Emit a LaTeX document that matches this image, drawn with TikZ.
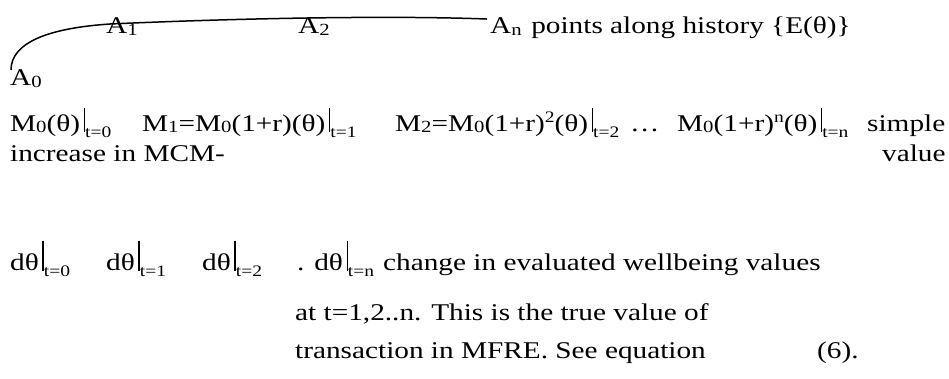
\documentclass[tikz,border=0pt]{standalone}
\usepackage{fontspec}
\setmainfont{Liberation Serif}[FakeStretch=1.22]
\usetikzlibrary{positioning}

% small lowered / raised figures and the evaluation bar
\newcommand{\lo}[2][0.1em]{\raisebox{-#1}{\fontsize{17}{17}\selectfont #2}}
\newcommand{\hi}[1]{\raisebox{0.36em}{\fontsize{16}{16}\selectfont #1}}
\newcommand{\evbar}[2][1.0em]{\hspace{0.15em}\rule[-0.05em]{1.4pt}{#1}\raisebox{-0.25em}{\fontsize{16}{16}\selectfont #2}}

\begin{document}
\begin{tikzpicture}[
    x=1pt, y=-1pt,
    txt/.style={anchor=base west, inner sep=0pt, font=\fontsize{24}{28}\selectfont},
    histline/.style={draw=black, line width=1.5pt}
]
    \useasboundingbox (0,0) rectangle (949,378);

    % Points along history
    \node[txt] (A0) at (10,85) {A\lo{0}};
    \node[txt] (A1) at (106,33) {A\lo{1}};
    \node[txt] (A2) at (298,33) {A\lo{2}};
    \node[txt] (An) at (490,33) {A\lo{n}\hspace{0.4em}points along history \{E(θ)\}};

    % History curve from A0 up to An
    \coordinate (h0) at (11,70);
    \coordinate (h1) at (110,24);
    \draw[histline] (h0) .. controls (11,42) and (50,28) .. (h1)
        .. controls (220,19) and (380,15) .. ([xshift=-3pt,yshift=-3pt]An.north west);

    % MCM values at each time
    \node[txt] (m0) at (10,131) {M\lo[0.08em]{0}(θ)\evbar{t=0}};
    \node[txt] (m1) at (142,131) {M\lo[0.08em]{1}=M\lo[0.08em]{0}(1+r)(θ)\evbar{t=1}};
    \node[txt] (m2) at (395,131) {M\lo[0.08em]{2}=M\lo[0.08em]{0}(1+r)\hi{2}(θ)\evbar{t=2}};
    \node[txt] (mdots) at (630,131) {…};
    \node[txt] (mn) at (677,131) {M\lo[0.08em]{0}(1+r)\hi{n}(θ)\evbar{t=n}};
    \node[txt] (simple) at (867,131) {simple};
    \node[txt] (incr) at (10,161) {increase in MCM-};
    \node[txt] (value) at (882,161) {value};

    % Changes in wellbeing
    \node[txt] (d0) at (10,270) {dθ\evbar[1.25em]{t=0}};
    \node[txt] (d1) at (106,270) {dθ\evbar[1.25em]{t=1}};
    \node[txt] (d2) at (202,270) {dθ\evbar[1.25em]{t=2}};
    \node[txt] (dn) at (297,270) {. dθ\evbar[1.25em]{t=n}};
    \node[txt] (chg) at (383,270) {change in evaluated wellbeing values};
    \node[txt] (at) at (295,320) {at t=1,2..n. This is the true value of};
    \node[txt] (trans) at (295,358) {transaction in MFRE. See equation};
    \node[txt] (eqn) at (817,358) {(6).};

\end{tikzpicture}
\end{document}
